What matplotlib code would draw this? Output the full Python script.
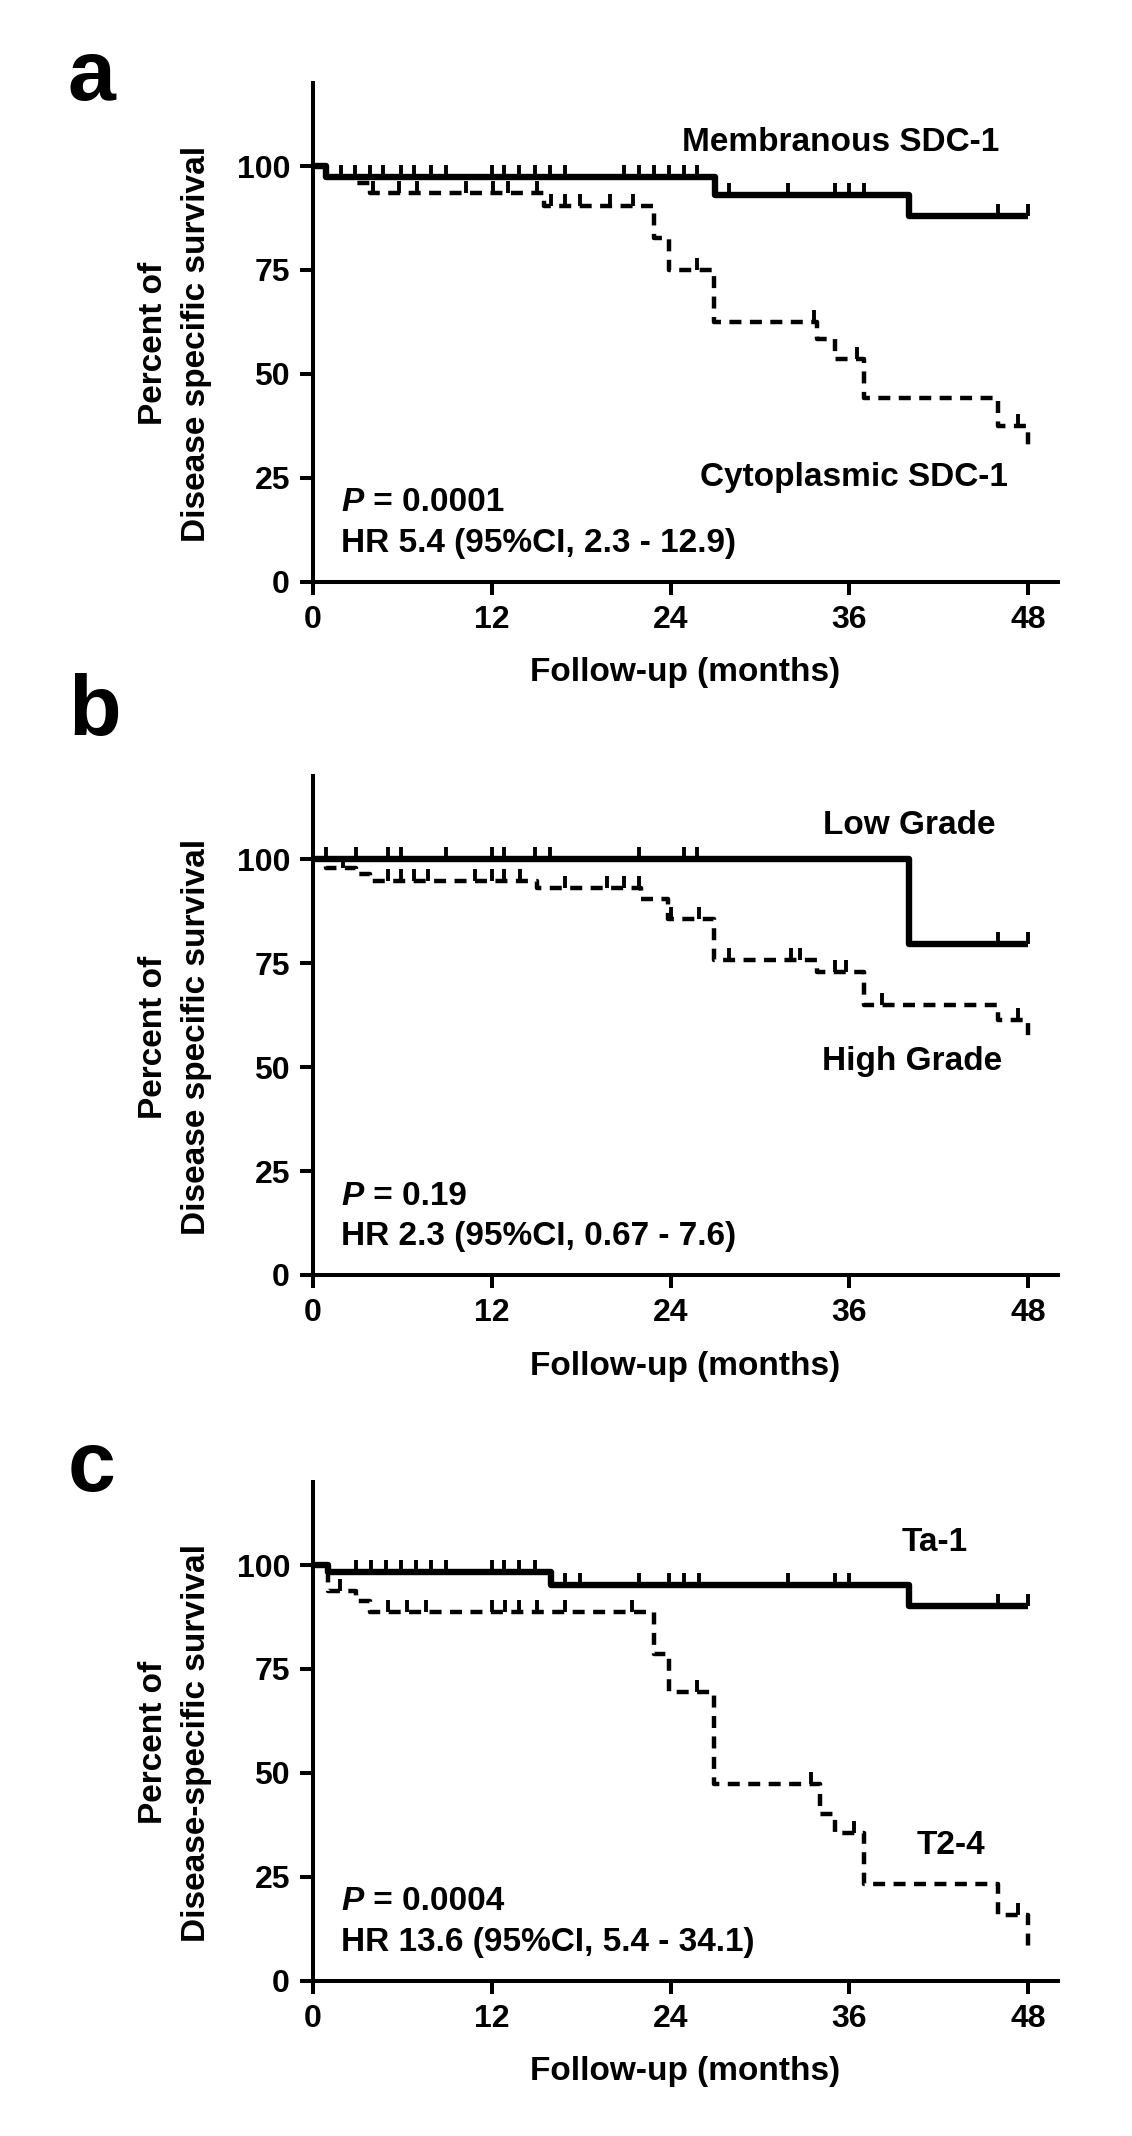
import matplotlib
matplotlib.use("Agg")
import matplotlib.pyplot as plt
import numpy as np

plt.rcParams['font.family'] = ['Liberation Sans', 'DejaVu Sans']
plt.rcParams['font.weight'] = 'bold'

# ---- panel a: SDC-1 localisation ----
mem_t = [0, 0.9, 27.0, 40.0, 48.0]
mem_s = [100, 97.3, 93.1, 87.9, 87.9]
mem_cens = [1.9, 2.8, 3.8, 4.7, 5.9, 6.8, 7.9, 8.9, 12.0, 12.8, 13.8, 14.9, 15.9, 16.9,
            20.9, 21.9, 22.9, 23.9, 24.9, 25.8, 27.9, 31.9, 35.0, 36.0, 37.0, 46.0, 48.0]

cyt_t = [0, 0.9, 2.9, 3.8, 15.5, 22.9, 23.9, 26.9, 33.8, 35.0, 37.0, 46.0, 48.0]
cyt_s = [100, 97.3, 96.0, 93.5, 90.3, 82.7, 75.0, 62.4, 58.4, 53.6, 44.3, 37.5, 31.5]
cyt_cens = [4.0, 5.8, 7.0, 10.3, 12.1, 13.1, 15.0, 16.0, 16.9, 17.9, 19.9, 21.5,
            25.8, 33.6, 36.5, 47.3]

# ---- panel b: grade ----
low_t = [0, 40.0, 48.0]
low_s = [100, 79.6, 79.6]
low_cens = [0.9, 2.9, 5.0, 5.9, 8.9, 12.0, 12.8, 14.9, 15.9, 21.9, 24.9, 25.8, 46.0, 48.0]

high_t = [0, 0.9, 2.9, 3.8, 15.0, 22.0, 23.8, 26.9, 33.8, 37.0, 46.0, 48.0]
high_s = [100, 98.0, 96.4, 94.8, 93.2, 90.5, 85.8, 75.7, 73.0, 64.9, 61.3, 57.2]
high_cens = [2.0, 5.0, 5.9, 6.8, 7.7, 10.9, 12.0, 12.8, 13.9, 16.9, 19.7, 20.9, 21.9,
             24.0, 25.9, 27.9, 32.1, 32.7, 35.0, 35.8, 38.2, 47.3]

# ---- panel c: stage ----
ta_t = [0, 1.0, 16.0, 40.0, 48.0]
ta_s = [100, 98.4, 95.3, 90.1, 90.1]
ta_cens = [2.9, 3.9, 4.9, 5.9, 6.9, 7.9, 8.9, 12.0, 12.8, 13.8, 14.9, 16.9, 17.9, 21.9,
           23.9, 24.9, 25.9, 31.9, 35.0, 36.0, 46.0, 48.0]

t24_t = [0, 1.0, 2.9, 3.8, 22.9, 23.9, 26.9, 34.0, 35.0, 37.0, 46.0, 48.0]
t24_s = [100, 93.7, 91.3, 88.7, 78.5, 69.4, 47.3, 40.0, 35.5, 23.3, 15.8, 7.0]
t24_cens = [1.8, 5.0, 6.3, 7.6, 12.0, 12.9, 13.8, 15.0, 16.9, 21.4, 25.8, 33.4, 36.3, 47.3]

panels = [
    dict(letter='a', solid=(mem_t, mem_s, mem_cens), dashed=(cyt_t, cyt_s, cyt_cens),
         solid_lab=('Membranous SDC-1', 35.4, 105.8), dashed_lab=('Cytoplasmic SDC-1', 36.3, 25.0),
         p='0.0001', hr='HR 5.4 (95%CI, 2.3 - 12.9)', ylab='Percent of\nDisease specific survival'),
    dict(letter='b', solid=(low_t, low_s, low_cens), dashed=(high_t, high_s, high_cens),
         solid_lab=('Low Grade', 40.0, 108.3), dashed_lab=('High Grade', 40.2, 51.4),
         p='0.19', hr='HR 2.3 (95%CI, 0.67 - 7.6)', ylab='Percent of\nDisease specific survival'),
    dict(letter='c', solid=(ta_t, ta_s, ta_cens), dashed=(t24_t, t24_s, t24_cens),
         solid_lab=('Ta-1', 41.7, 105.5), dashed_lab=('T2-4', 42.8, 32.5),
         p='0.0004', hr='HR 13.6 (95%CI, 5.4 - 34.1)', ylab='Percent of\nDisease-specific survival'),
]

W, H = 1132, 2136
fig = plt.figure(figsize=(W / 100, H / 100), dpi=100)

ax_bottoms = [581.6, 1275.0, 1980.6]   # pixel row of y=0
letter_base = [100, 735, 1491]
left_px, width_px, height_px = 313, 745, 498.6
FS = 24


def censor_y(t, s, c):
    idx = np.searchsorted(np.array(t), np.array(c), side='right') - 1
    return np.array(s)[idx]


def km(ax, t, s, cens, dashed):
    kw = dict(color='black', where='post', solid_capstyle='butt')
    if dashed:
        line, = ax.step(t, s, lw=3.2, **kw)
        line.set_dashes((2.7, 1.9))
    else:
        ax.step(t, s, lw=4.6, **kw)
    ax.plot(cens, censor_y(t, s, cens), ls='none', marker=2, ms=8.5, mew=2.8, color='black')


for i, p in enumerate(panels):
    b = ax_bottoms[i]
    ax = fig.add_axes([left_px / W, 1 - b / H, width_px / W, height_px / H])
    km(ax, *p['solid'], dashed=False)
    km(ax, *p['dashed'], dashed=True)

    ax.set_xlim(0, 50)
    ax.set_ylim(0, 120)
    ax.set_xticks([0, 12, 24, 36, 48])
    ax.set_yticks([0, 25, 50, 75, 100])
    for side in ['top', 'right']:
        ax.spines[side].set_visible(False)
    for side in ['left', 'bottom']:
        ax.spines[side].set_linewidth(2.9)
    ax.tick_params(direction='out', length=9.5, width=2.9, labelsize=23, pad=7)

    ax.set_xlabel('Follow-up (months)', fontsize=FS, fontweight='bold')
    ax.xaxis.set_label_coords(0.5, -0.152)
    ax.text(-0.185, 0.477, p['ylab'], transform=ax.transAxes, rotation=90,
            ha='center', va='center', multialignment='center', fontsize=FS,
            fontweight='bold', linespacing=1.5)

    lab, x, y = p['solid_lab']
    ax.text(x, y, lab, ha='center', va='center', fontsize=FS, fontweight='bold')
    lab, x, y = p['dashed_lab']
    ax.text(x, y, lab, ha='center', va='center', fontsize=FS, fontweight='bold')

    pt = ax.text(1.9, 19.0, 'P', ha='left', va='center', fontsize=FS,
                 fontweight='bold', fontstyle='italic')
    ax.annotate(' = ' + p['p'], xy=(1, 0), xycoords=pt, ha='left', va='bottom',
                fontsize=FS, fontweight='bold')
    ax.text(1.9, 9.2, p['hr'], ha='left', va='center', fontsize=FS, fontweight='bold')

    fig.text(68 / W, 1 - letter_base[i] / H, p['letter'], fontsize=62,
             fontweight='bold', ha='left', va='baseline')

fig.savefig('out.png', dpi=100)
